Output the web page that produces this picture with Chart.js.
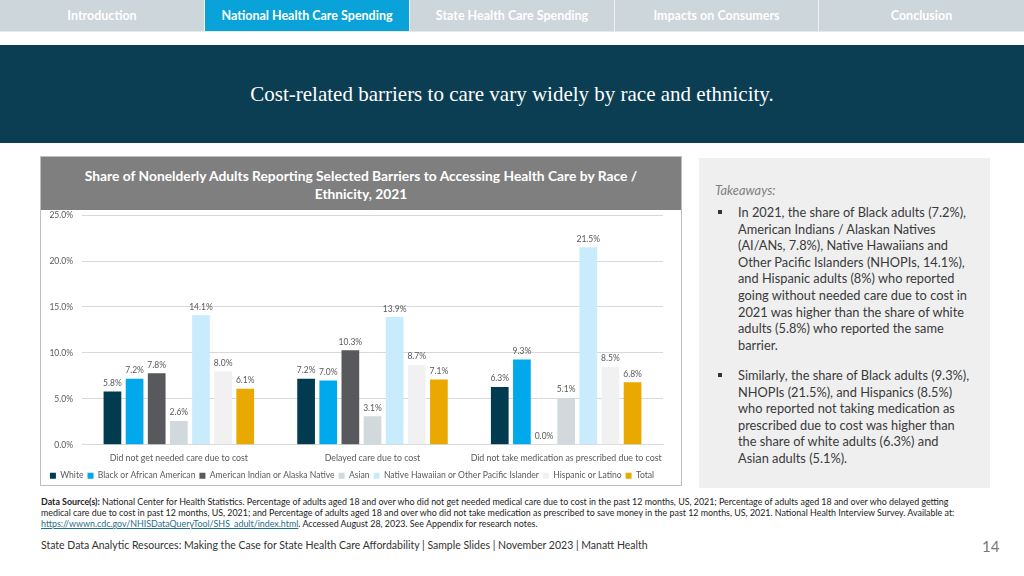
<!DOCTYPE html>
<html>
<head>
<meta charset="utf-8">
<script src="https://cdn.jsdelivr.net/npm/chart.js@4/dist/chart.umd.min.js"></script>
<style>
  body { margin: 0; width: 1024px; height: 576px; position: relative; background: #fff; overflow: hidden; font-family: Lato, "Open Sans", sans-serif; }
  .nav { position: absolute; left: 0; top: 0; width: 1024px; height: 31px; background: #cdd6da; border-bottom: 1px solid #e4e9eb; }
  .tab { position: absolute; top: 0; height: 31px; line-height: 31px; text-align: center; color: #fff; font-size: 12.5px; font-weight: bold; border-right: 1px solid #eef2f3; box-sizing: border-box; }
  .tab.active { background: #0aa3d9; }
  .band { position: absolute; left: 0; top: 45px; width: 1024px; height: 98px; background: #0b3d53; }
  .band div { position: absolute; left: 0; right: 0; top: 37px; text-align: center; color: #fff; font-family: "Liberation Serif", "DejaVu Serif", serif; font-size: 21px; }
  .panel { position: absolute; left: 40px; top: 156px; width: 640px; height: 328px; border: 1px solid #bfbfbf; }
  .phead { position: absolute; left: 0; top: 0; width: 640px; height: 53px; background: #7f7f7f; color: #fff; font-weight: bold; font-size: 13.8px; text-align: center; line-height: 18px; padding-top: 10px; box-sizing: border-box; }
  #chartWrap { position: absolute; left: 41px; top: 201px; width: 640px; height: 291px; }
  .take { position: absolute; left: 699px; top: 158px; width: 291px; height: 330px; background: #efefef; color: #3a3a3a; font-size: 12.8px; }
  .take .ttl { position: absolute; left: 16px; top: 24px; font-style: italic; color: #7f7f7f; }
  .take .b { position: absolute; left: 39px; line-height: 16.6px; white-space: nowrap; }
  .take .b::before { content: ""; position: absolute; left: -20px; top: 6px; width: 4px; height: 4px; background: #333; }
  .src { position: absolute; left: 41px; top: 496px; font-size: 8.9px; line-height: 11px; color: #222; white-space: nowrap; }
  .src a { color: #1f6f8b; }
  .foot { position: absolute; left: 41px; top: 539px; font-size: 10.5px; color: #333; }
  .pg { position: absolute; left: 982px; top: 537px; font-size: 15px; color: #777; }
</style>
</head>
<body>
<div class="nav">
  <div class="tab" style="left:0;width:205px">Introduction</div>
  <div class="tab active" style="left:205px;width:205px">National Health Care Spending</div>
  <div class="tab" style="left:410px;width:205px">State Health Care Spending</div>
  <div class="tab" style="left:615px;width:204px">Impacts on Consumers</div>
  <div class="tab" style="left:819px;width:205px;border-right:none">Conclusion</div>
</div>
<div class="band"><div>Cost-related barriers to care vary widely by race and ethnicity.</div></div>

<div class="panel">
  <div class="phead">Share of Nonelderly Adults Reporting Selected Barriers to Accessing Health Care by Race /<br>Ethnicity, 2021</div>
</div>
<div id="chartWrap"><canvas id="chart"></canvas></div>

<div class="take">
  <div class="ttl">Takeaways:</div>
  <div class="b" style="top:46px">In 2021, the share of Black adults (7.2%),<br>American Indians / Alaskan Natives<br>(AI/ANs, 7.8%), Native Hawaiians and<br>Other Pacific Islanders (NHOPIs, 14.1%),<br>and Hispanic adults (8%) who reported<br>going without needed care due to cost in<br>2021 was higher than the share of white<br>adults (5.8%) who reported the same<br>barrier.</div>
  <div class="b" style="top:209px">Similarly, the share of Black adults (9.3%),<br>NHOPIs (21.5%), and Hispanics (8.5%)<br>who reported not taking medication as<br>prescribed due to cost was higher than<br>the share of white adults (6.3%) and<br>Asian adults (5.1%).</div>
</div>

<div class="src"><b>Data Source(s):</b> National Center for Health Statistics. Percentage of adults aged 18 and over who did not get needed medical care due to cost in the past 12 months, US, 2021; Percentage of adults aged 18 and over who delayed getting<br>medical care due to cost in past 12 months, US, 2021; and Percentage of adults aged 18 and over who did not take medication as prescribed to save money in the past 12 months, US, 2021. National Health Interview Survey. Available at:<br><a href="#">https://wwwn.cdc.gov/NHISDataQueryTool/SHS_adult/index.html</a>. Accessed August 28, 2023. See Appendix for research notes.</div>
<div class="foot">State Data Analytic Resources: Making the Case for State Health Care Affordability | Sample Slides | November 2023 | Manatt Health</div>
<div class="pg">14</div>

<script>
  // 数据
  const categories = ['Did not get needed care due to cost', 'Delayed care due to cost', 'Did not take medication as prescribed due to cost'];
  const white = [5.8, 7.2, 6.3];
  const black = [7.2, 7.0, 9.3];
  const aian = [7.8, 10.3, 0.0];
  const asian = [2.6, 3.1, 5.1];
  const nhopi = [14.1, 13.9, 21.5];
  const hispanic = [8.0, 8.7, 8.5];
  const total = [6.1, 7.1, 6.8];
  const yTicks = [0, 5, 10, 15, 20, 25];

  const series = [
    { label: 'White', data: white, color: '#003b50' },
    { label: 'Black or African American', data: black, color: '#00a8ec' },
    { label: 'American Indian or Alaska Native', data: aian, color: '#58595d' },
    { label: 'Asian', data: asian, color: '#d1d9dc' },
    { label: 'Native Hawaiian or Other Pacific Islander', data: nhopi, color: '#c8ecfb' },
    { label: 'Hispanic or Latino', data: hispanic, color: '#f1f1f1' },
    { label: 'Total', data: total, color: '#eaa900' }
  ];

  // 柱子上方的数值标签
  const valueLabels = {
    id: 'valueLabels',
    afterDatasetsDraw(chart) {
      const ctx = chart.ctx;
      ctx.save();
      ctx.font = '8.5px Lato, sans-serif';
      ctx.fillStyle = '#595959';
      ctx.textAlign = 'center';
      ctx.textBaseline = 'bottom';
      chart.data.datasets.forEach((ds, i) => {
        chart.getDatasetMeta(i).data.forEach((bar, j) => {
          ctx.fillText(ds.data[j].toFixed(1) + '%', bar.x, bar.y - 4);
        });
      });
      ctx.restore();
    }
  };

  new Chart(document.getElementById('chart'), {
    type: 'bar',
    data: {
      labels: categories,
      datasets: series.map(s => ({
        label: s.label,
        data: s.data,
        backgroundColor: s.color,
        borderWidth: 0,
        barPercentage: 0.8,
        categoryPercentage: 0.8
      }))
    },
    options: {
      responsive: true,
      maintainAspectRatio: false,
      animation: false,
      layout: { padding: { top: 0, right: 18, left: 0, bottom: 2 } },
      plugins: {
        tooltip: { enabled: false },
        legend: {
          position: 'bottom',
          labels: {
            boxWidth: 6, boxHeight: 6, padding: 4,
            color: '#595959',
            font: { family: 'Lato', size: 8.6 }
          }
        }
      },
      scales: {
        x: {
          afterFit: s => { s.height -= 4; },
          grid: { display: false, drawTicks: false },
          border: { color: '#d9d9d9' },
          ticks: { color: '#595959', font: { family: 'Lato', size: 8.8 }, padding: 8, maxRotation: 0, minRotation: 0, autoSkip: false }
        },
        y: {
          min: 0, max: 25,
          afterFit: s => { s.width = 41; },
          afterBuildTicks: s => { s.ticks = yTicks.map(v => ({ value: v })); },
          grid: { color: '#d9d9d9', drawTicks: false },
          border: { display: false },
          ticks: { color: '#595959', font: { family: 'Lato', size: 8.5 }, padding: 9, callback: v => v.toFixed(1) + '%' }
        }
      }
    },
    plugins: [valueLabels]
  });
</script>
</body>
</html>
